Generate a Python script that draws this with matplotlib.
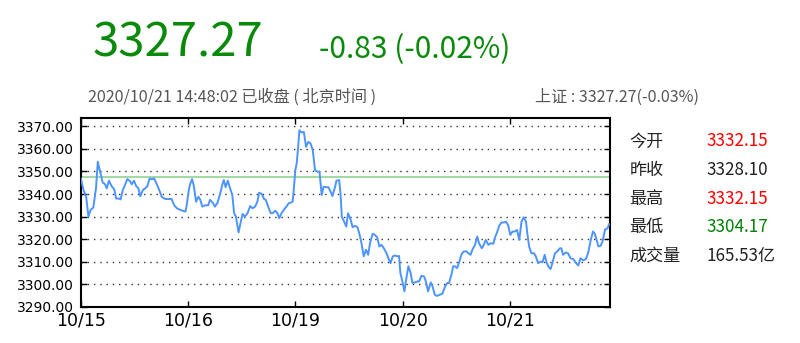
import matplotlib
matplotlib.use("Agg")
import matplotlib.pyplot as plt

# trading minutes since 10/15 open (240 per day) and index level
minutes = [
    0, 6, 12, 17, 22, 28, 34, 38, 43, 49, 54, 58, 63, 69, 75, 79, 86, 89, 94, 99,
    104, 110, 114, 119, 124, 129, 133, 139, 144, 149, 154, 159, 164, 170, 176, 181,
    189, 196, 203, 209, 215, 222, 228, 234, 237,
    241, 244, 249, 253, 258, 263, 267, 272, 278, 285, 289, 295, 300, 306, 312, 317,
    320, 324, 329, 334, 339, 343, 347, 353, 358, 362, 367, 373, 379, 384, 390, 395,
    399, 405, 410, 414, 420, 425, 429, 435, 440, 444, 449, 455, 461, 465, 470, 474,
    477,
    480, 483, 487, 489, 494, 499, 504, 509, 514, 519, 524, 529, 534, 539, 543, 549,
    554, 559, 563, 569, 572, 578, 581, 584, 589, 594, 598, 604, 608, 613, 619, 623,
    628, 633, 638, 643, 647, 653, 658, 663, 668, 673, 678, 684, 688, 693, 698, 703,
    708, 712, 715,
    720, 724, 729, 733, 738, 742, 748, 753, 757, 762, 768, 772, 777, 783, 787, 792,
    797, 803, 809, 815, 820, 824, 830, 833, 837, 842, 847, 852, 857, 863, 867, 872,
    876, 882, 887, 891, 897, 900, 906, 912, 917, 923, 926, 932, 936, 941, 947, 951,
    956,
    961, 966, 971, 976, 981, 986, 991, 996, 999, 1003, 1008, 1014, 1018, 1023, 1029,
    1033, 1038, 1042, 1046, 1051, 1055, 1061, 1066, 1072, 1075, 1079, 1085, 1090,
    1096, 1102, 1108, 1113, 1118, 1124, 1130, 1135, 1141, 1146, 1150, 1154, 1158,
    1163, 1167, 1173, 1178, 1182,
]
prices = [
    3346.9, 3341.8, 3338.8, 3330.0, 3333.0, 3334.0, 3342.5, 3354.3, 3350.0, 3345.0,
    3344.4, 3342.5, 3345.9, 3343.5, 3342.0, 3338.0, 3338.0, 3337.6, 3341.8, 3344.0,
    3346.6, 3345.7, 3344.3, 3345.9, 3343.5, 3342.5, 3339.0, 3341.8, 3342.5, 3343.5,
    3346.9, 3346.5, 3346.9, 3344.4, 3341.5, 3338.8, 3337.8, 3337.8, 3337.8, 3335.0,
    3333.7, 3333.0, 3332.6, 3332.2, 3335.0,
    3341.0, 3344.0, 3346.6, 3343.5, 3336.6, 3338.8, 3337.6, 3334.4, 3335.0, 3335.0,
    3337.4, 3336.2, 3334.4, 3336.2, 3340.3, 3344.4, 3346.2, 3343.0, 3345.9, 3342.5,
    3339.6, 3331.5, 3330.0, 3323.0, 3327.8, 3331.2, 3330.0, 3331.5, 3334.7, 3333.7,
    3334.4, 3336.6, 3340.6, 3340.0, 3337.8, 3337.4, 3334.0, 3331.5, 3331.5, 3332.6,
    3331.5, 3329.3, 3331.5, 3333.2, 3334.7, 3335.9, 3336.2, 3336.6, 3343.2,
    3350.6, 3353.5, 3362.4, 3368.2, 3367.2, 3367.5, 3360.9, 3363.1, 3362.4, 3359.4,
    3350.6, 3349.9, 3349.9, 3339.6, 3343.2, 3343.0, 3343.0, 3341.0, 3339.1, 3343.2,
    3345.9, 3346.2, 3340.3, 3330.0, 3327.8, 3325.6, 3331.5, 3328.5, 3325.3, 3325.9,
    3325.3, 3322.6, 3318.2, 3312.4, 3315.3, 3313.1, 3318.2, 3322.4, 3321.9, 3320.9,
    3316.8, 3317.5, 3316.0, 3313.8, 3311.6, 3309.4, 3312.4, 3312.8, 3312.4, 3312.6,
    3305.0,
    3300.9, 3296.9, 3303.5, 3308.0, 3305.0, 3300.6, 3300.9, 3301.3, 3301.3, 3303.8,
    3303.5, 3301.3, 3296.9, 3300.9, 3299.1, 3295.4, 3294.9, 3295.4, 3295.9, 3299.1,
    3300.6, 3300.6, 3305.0, 3308.0, 3308.0, 3307.2, 3310.1, 3313.5, 3314.6, 3314.6,
    3313.8, 3313.1, 3315.3, 3317.5, 3321.2, 3318.2, 3316.0, 3316.8, 3319.7, 3317.5,
    3318.2, 3318.0, 3320.4, 3323.4, 3325.9, 3327.4, 3327.4, 3327.8, 3326.3,
    3321.9, 3323.4, 3323.4, 3324.1, 3319.7, 3327.8, 3329.7, 3327.8, 3322.6, 3316.8,
    3313.8, 3313.8, 3312.4, 3309.4, 3310.1, 3309.8, 3313.1, 3309.8, 3307.9, 3306.8,
    3309.4, 3313.8, 3314.6, 3316.0, 3316.0, 3313.1, 3314.1, 3313.8, 3311.5, 3311.2,
    3309.4, 3308.4, 3311.6, 3310.6, 3311.2, 3313.8, 3319.7, 3323.4, 3322.4, 3319.7,
    3316.8, 3317.1, 3318.8, 3324.3, 3324.7, 3326.6,
]
ref_level = 3347.4

day_ticks = [0, 240, 480, 720, 960]
day_labels = ["10/15", "10/16", "10/19", "10/20", "10/21"]
y_ticks = [3290, 3300, 3310, 3320, 3330, 3340, 3350, 3360, 3370]

last_price = "3327.27"
change_text = "-0.83 (-0.02%)"
time_text = "2020/10/21 14:48:02 已收盘 ( 北京时间 )"
sh_text = "上证 : 3327.27(-0.03%)"
stat_names = ["今开", "昨收", "最高", "最低", "成交量"]
stat_values = ["3332.15", "3328.10", "3332.15", "3304.17", "165.53亿"]
stat_colors = ["#ff0000", "#222222", "#ff0000", "#008000", "#222222"]

cjk = ["Noto Sans CJK SC", "DejaVu Sans"]
green = "#0a8a0a"

fig = plt.figure(figsize=(8, 3.43), dpi=100)
ax = fig.add_axes([0.101, 0.105, 0.6615, 0.552])

ax.plot(minutes, prices, color="#4d94ff", lw=1.4, zorder=3)
ax.axhline(ref_level, color="#8fd48f", lw=1.2, zorder=2)

ax.set_xlim(0, 1184)
ax.set_ylim(3290, 3373.8)
ax.set_yticks(y_ticks)
ax.set_yticklabels(["%.2f" % v for v in y_ticks], fontsize=10)
ax.set_xticks(day_ticks)
ax.set_xticklabels(day_labels, fontsize=12.5)
ax.tick_params(direction="in", top=True, right=True, length=4, width=1, pad=3)
ax.tick_params(axis="y", pad=5)
ax.grid(axis="y", linestyle=(0, (1, 3.5)), color="#333333", lw=1)
for s in ax.spines.values():
    s.set_linewidth(1.5)

fig.text(0.116, 0.873, last_price, color=green, fontsize=34, family=cjk, va="center")
fig.text(0.399, 0.856, change_text, color=green, fontsize=21.5, family=cjk, va="center")
fig.text(0.11, 0.717, time_text, color="#555555", fontsize=11.6, family=cjk, va="center")
fig.text(0.874, 0.717, sh_text, color="#555555", fontsize=11.6, family=cjk,
         va="center", ha="right")

row_y = [0.588, 0.504, 0.421, 0.339, 0.255]
for name, val, col, y in zip(stat_names, stat_values, stat_colors, row_y):
    fig.text(0.787, y, name, fontsize=12.3, family=cjk, color="#222222", va="center")
    fig.text(0.883, y, val, fontsize=12.3, family=cjk, color=col, va="center")

fig.savefig("out.png", dpi=100)
